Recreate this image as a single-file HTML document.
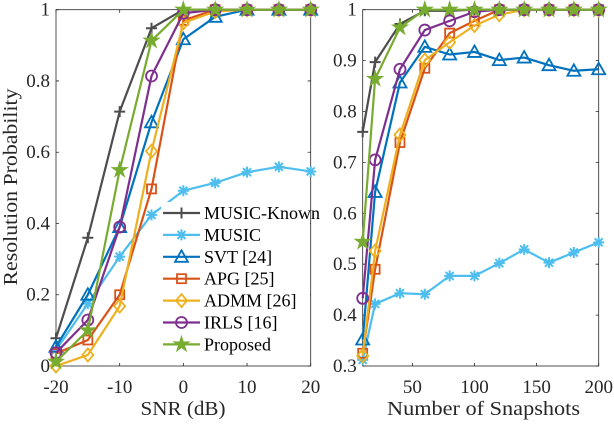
<!DOCTYPE html>
<html><head><meta charset="utf-8"><style>
body{margin:0;background:#fff}
svg{display:block}
svg text{font-family:"Liberation Serif","DejaVu Serif",serif}
</style></head><body>
<svg id="c" width="614" height="426"></svg>
<script>
const names=["MUSIC-Known","MUSIC","SVT [24]","APG [25]","ADMM [26]","IRLS [16]","Proposed"];
const colors=["#4d4d4d","#4dbeee","#0072bd","#d95319","#edb120","#7e2f8e","#77ac30"];
const markers=["plus","asterisk","triangle","square","diamond","circle","star"];
const snr=[-20,-15,-10,-5,0,5,10,15,20];
const snrKnown=[0.078,0.36,0.714,0.948,1,1,1,1,1];
const snrMusic=[0.045,0.175,0.307,0.424,0.492,0.514,0.544,0.559,0.546];
const snrSvt=[0.054,0.2,0.39,0.684,0.917,0.98,1,1,1];
const snrApg=[0.035,0.073,0.2,0.497,0.97,1,1,1,1];
const snrAdmm=[0.0,0.031,0.168,0.603,0.963,0.995,1,1,1];
const snrIrls=[0.037,0.129,0.39,0.814,0.99,1,1,1,1];
const snrProp=[0.012,0.1,0.55,0.913,1,1,1,1,1];
const snaps=[10,20,40,60,80,100,120,140,160,180,200];
const snKnown=[0.76,0.897,0.972,0.998,0.998,1,1,1,1,1,1];
const snMusic=[0.312,0.422,0.443,0.441,0.477,0.477,0.502,0.529,0.503,0.523,0.543];
const snSvt=[0.352,0.642,0.857,0.927,0.912,0.917,0.901,0.906,0.891,0.88,0.883];
const snApg=[0.325,0.49,0.739,0.885,0.954,0.978,1,1,1,1,1];
const snAdmm=[0.32,0.526,0.754,0.901,0.936,0.969,0.99,1,1,1,1];
const snIrls=[0.433,0.705,0.883,0.96,0.978,0.996,1,1,1,1,1];
const snProp=[0.544,0.864,0.965,1,1,1,1,1,1,1,1];
const leftTicksX=[-20,-10,0,10,20], leftTicksY=[0,0.2,0.4,0.6,0.8,1];
const rightTicksX=[50,100,150,200], rightTicksY=[0.3,0.4,0.5,0.6,0.7,0.8,0.9,1];

const FF='"Liberation Serif", "DejaVu Serif", serif';
const svg=document.getElementById('c');
const NS="http://www.w3.org/2000/svg";
function mk(tag,attrs,parent){const e=document.createElementNS(NS,tag);for(const k in attrs)e.setAttribute(k,attrs[k]);if(tag==='text')e.setAttribute('font-family',FF);(parent||svg).appendChild(e);return e;}
function marker(g,type,x,y,c){
  const s=5.5;let e;
  if(type==="plus"){e=mk('path',{d:`M${x-s} ${y}H${x+s}M${x} ${y-s}V${y+s}`,stroke:c,'stroke-width':2,fill:'none'},g);}
  else if(type==="asterisk"){e=mk('path',{d:`M${x-s} ${y}H${x+s}M${x} ${y-s}V${y+s}M${x-4} ${y-4}L${x+4} ${y+4}M${x-4} ${y+4}L${x+4} ${y-4}`,stroke:c,'stroke-width':2,fill:'none'},g);}
  else if(type==="triangle"){e=mk('path',{d:`M${x} ${y-6.5}L${x+6.5} ${y+5}L${x-6.5} ${y+5}Z`,stroke:c,'stroke-width':1.8,fill:'none'},g);}
  else if(type==="square"){e=mk('rect',{x:x-4.5,y:y-4.5,width:9,height:9,stroke:c,'stroke-width':1.8,fill:'none'},g);}
  else if(type==="diamond"){e=mk('path',{d:`M${x} ${y-6.5}L${x+5.5} ${y}L${x} ${y+6.5}L${x-5.5} ${y}Z`,stroke:c,'stroke-width':1.8,fill:'none'},g);}
  else if(type==="circle"){e=mk('circle',{cx:x,cy:y,r:5.5,stroke:c,'stroke-width':1.8,fill:'none'},g);}
  else {let p=[];for(let i=0;i<10;i++){const r=i%2?3:8,a=-Math.PI/2+i*Math.PI/5;p.push((x+r*Math.cos(a)).toFixed(1)+','+(y+r*Math.sin(a)).toFixed(1));}
    e=mk('polygon',{points:p.join(' '),fill:c,stroke:c,'stroke-width':1},g);}
  
  
}
function panel(pname,X0,X1,xmin,xmax,Y0,Y1,ymin,ymax,xs,series,tx,ty,xlabel,xlabelLen,xlabelX){
  const sx=v=>X0+(v-xmin)/(xmax-xmin)*(X1-X0), sy=v=>Y0-(v-ymin)/(ymax-ymin)*(Y0-Y1);
  const g=mk('g',{});
  
  
  const box=mk('rect',{x:X0,y:Y1,width:X1-X0,height:Y0-Y1,fill:'#fff',stroke:'#262626','stroke-width':0.8},g);
  
  
  tx.forEach(v=>{const x=sx(v);
    mk('path',{d:`M${x} ${Y0}v-3M${x} ${Y1}v3`,stroke:'#262626','stroke-width':0.8},g);
    const t=mk('text',{x:x,y:Y0+27,'text-anchor':'middle','font-size':19,fill:'#262626'},g);t.textContent=v;
    
    });
  ty.forEach(v=>{const y=sy(v);
    mk('path',{d:`M${X0} ${y}h3M${X1} ${y}h-3`,stroke:'#262626','stroke-width':0.8},g);
    const t=mk('text',{x:X0-6,y:y+6,'text-anchor':'end','font-size':19,fill:'#262626'},g);t.textContent=v;
    
    });
  series.forEach((d,i)=>{
    const sg=mk('g',{},g);
    
    
    mk('polyline',{points:d.map((v,j)=>sx(xs[j])+','+sy(v)).join(' '),fill:'none',stroke:colors[i],'stroke-width':2.2,'stroke-linejoin':'round'},sg);
    d.forEach((v,j)=>marker(sg,markers[i],sx(xs[j]),sy(v),colors[i]));
  });
  const xl=mk('text',{x:xlabelX,y:415,'text-anchor':'middle','font-size':20,fill:'#262626',textLength:xlabelLen,lengthAdjust:'spacingAndGlyphs'},g);xl.textContent=xlabel;
  
  
}
panel('snr-panel',56,310.7,-20,20,366,9.7,0,1,snr,[snrKnown,snrMusic,snrSvt,snrApg,snrAdmm,snrIrls,snrProp],leftTicksX,leftTicksY,'SNR (dB)',85,183);
panel('snapshots-panel',362.7,598.7,10,200,366,9.7,0.3,1,snaps,[snKnown,snMusic,snSvt,snApg,snAdmm,snIrls,snProp],rightTicksX,rightTicksY,'Number of Snapshots',193,483.5);
const yl=mk('text',{x:0,y:0,transform:'translate(17,187) rotate(-90)','text-anchor':'middle','font-size':20,fill:'#262626',textLength:197,lengthAdjust:'spacingAndGlyphs'});
yl.textContent='Resolution Probability';


const lg=mk('g',{});


mk('rect',{x:161,y:202,width:149,height:154,fill:'#fff'},lg);
names.forEach((n,i)=>{
  const y=213+i*21.9;
  const e=mk('g',{},lg);
  
  
  mk('line',{x1:163,y1:y,x2:200,y2:y,stroke:colors[i],'stroke-width':2.2},e);
  marker(e,markers[i],181.5,y,colors[i]);
  const t=mk('text',{x:204,y:y+6,'font-size':18,fill:'#000'},e);t.textContent=n;
});
</script>
</body></html>
